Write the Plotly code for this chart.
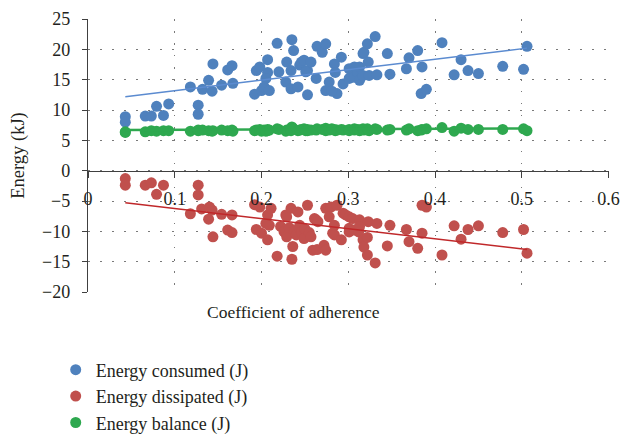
import plotly.graph_objs as go

# --- data ---
consumed_x = [0.043, 0.043, 0.066, 0.073, 0.079, 0.087, 0.093, 0.118, 0.127, 0.127, 0.132, 0.139, 0.143, 0.144,
              0.154, 0.161, 0.166, 0.167, 0.192, 0.194, 0.198, 0.200, 0.203, 0.207, 0.207, 0.205, 0.209, 0.218,
              0.220, 0.228, 0.229, 0.234, 0.235, 0.237, 0.234, 0.242, 0.244, 0.246, 0.249, 0.253, 0.253, 0.257,
              0.251, 0.263, 0.264, 0.270, 0.274, 0.274, 0.278, 0.284, 0.285, 0.287, 0.281, 0.292, 0.294, 0.301,
              0.301, 0.307, 0.307, 0.311, 0.313, 0.313, 0.317, 0.317, 0.318, 0.322, 0.323, 0.324, 0.331, 0.333,
              0.345, 0.348, 0.367, 0.370, 0.380, 0.385, 0.384, 0.390, 0.408, 0.422, 0.430, 0.438, 0.450, 0.478,
              0.502, 0.506]
consumed_y = [8.9, 8.0, 9.0, 9.0, 10.6, 9.1, 11.0, 13.8, 10.8, 9.3, 13.4, 14.9, 13.1, 17.6,
              14.1, 16.6, 17.3, 14.4, 12.6, 16.5, 17.1, 13.2, 13.8, 18.3, 16.2, 15.2, 13.2, 21.0,
              16.3, 14.6, 17.9, 13.5, 21.6, 19.8, 16.5, 13.8, 17.4, 17.9, 18.2, 12.5, 16.5, 17.9,
              16.3, 15.2, 20.5, 19.5, 20.9, 13.2, 14.6, 17.6, 16.2, 12.7, 13.1, 18.7, 14.3, 16.8,
              15.2, 15.4, 17.1, 16.2, 17.1, 14.9, 15.7, 19.3, 19.5, 20.9, 17.9, 15.7, 22.1, 15.8,
              19.3, 15.9, 16.8, 18.6, 19.8, 17.1, 12.7, 13.4, 21.1, 15.8, 18.3, 16.5, 16.0, 17.2,
              16.7, 20.5]

dissipated_x = [0.043, 0.043, 0.066, 0.073, 0.079, 0.087, 0.118, 0.127, 0.127, 0.131, 0.140, 0.143, 0.139, 0.144,
                0.154, 0.161, 0.166, 0.166, 0.192, 0.194, 0.198, 0.200, 0.205, 0.207, 0.207, 0.209, 0.211, 0.218,
                0.222, 0.226, 0.228, 0.228, 0.229, 0.229, 0.232, 0.234, 0.236, 0.235, 0.238, 0.240, 0.242, 0.244,
                0.246, 0.249, 0.250, 0.253, 0.255, 0.257, 0.259, 0.261, 0.263, 0.265, 0.264, 0.272, 0.274, 0.274,
                0.280, 0.278, 0.284, 0.282, 0.284, 0.287, 0.292, 0.294, 0.297, 0.301, 0.301, 0.301, 0.305, 0.307,
                0.312, 0.313, 0.313, 0.317, 0.318, 0.322, 0.322, 0.323, 0.331, 0.333, 0.345, 0.348, 0.367, 0.370,
                0.380, 0.385, 0.385, 0.390, 0.408, 0.422, 0.430, 0.438, 0.450, 0.478, 0.502, 0.506]
dissipated_y = [-1.3, -2.4, -2.4, -2.0, -3.9, -2.4, -7.1, -2.4, -4.0, -6.3, -6.0, -6.5, -8.0, -10.9,
                -7.2, -9.8, -7.3, -10.2, -5.6, -9.7, -6.0, -10.3, -8.7, -7.3, -11.4, -9.0, -6.2, -14.1,
                -9.2, -10.1, -7.3, -9.8, -10.9, -7.6, -9.4, -6.2, -12.5, -14.6, -9.9, -10.6, -6.8, -9.0,
                -10.1, -11.2, -9.6, -5.7, -10.2, -10.9, -13.1, -7.9, -8.1, -8.4, -13.0, -12.3, -13.1, -6.2,
                -6.0, -7.6, -9.0, -10.3, -10.6, -5.7, -11.4, -7.0, -7.3, -7.6, -9.5, -10.1, -7.9, -9.8,
                -10.1, -8.1, -9.2, -11.4, -12.6, -11.0, -13.9, -8.4, -15.2, -8.7, -12.4, -9.0, -9.7, -11.7,
                -12.8, -10.3, -5.7, -6.0, -13.9, -9.1, -11.3, -9.7, -9.1, -10.2, -9.7, -13.6]

balance_x = consumed_x
balance_y = [6.4, 6.3, 6.4, 6.6, 6.5, 6.6, 6.6, 6.5, 6.6, 6.7, 6.7, 6.6, 6.5, 6.6,
             6.7, 6.6, 6.7, 6.5, 6.6, 6.7, 6.8, 6.5, 6.7, 6.8, 6.6, 6.5, 6.7, 6.9,
             6.8, 6.5, 6.7, 6.6, 7.2, 6.9, 6.8, 6.6, 6.7, 6.8, 6.9, 6.6, 6.8, 6.7,
             6.6, 6.7, 6.9, 6.8, 7.0, 6.6, 6.7, 6.8, 6.6, 6.7, 6.9, 6.8, 6.7, 6.8,
             6.6, 6.7, 6.9, 6.8, 6.7, 6.6, 6.8, 6.9, 6.7, 6.9, 6.7, 6.6, 6.9, 6.8,
             6.7, 6.8, 6.7, 6.9, 6.6, 6.8, 6.7, 6.9, 7.1, 6.5, 7.0, 6.8, 6.8, 6.8,
             6.9, 6.6]

# linear trendlines (end values)
trend_x = [0.043, 0.506]
trend_consumed = [12.2, 20.2]
trend_dissipated = [-5.3, -13.0]
trend_balance = [6.7, 6.95]

series = [
    ("Energy consumed (J)", consumed_x, consumed_y, "#4F81BD", trend_consumed, "#5B8BD0"),
    ("Energy dissipated (J)", dissipated_x, dissipated_y, "#C0504D", trend_dissipated, "#C0282A"),
    ("Energy balance (J)", balance_x, balance_y, "#2EA84F", trend_balance, "#2EA84F"),
]

FONT = "Liberation Serif, Times New Roman, serif"
TXT = "#231F20"
GRID = "#7a7a7a"

fig = go.Figure()
for i, (name, xs, ys, col, tr, tcol) in enumerate(series):
    fig.add_trace(go.Scatter(x=xs, y=ys, mode="markers", name=name, legendgroup=str(i),
                             marker=dict(color=col, size=11, line=dict(width=0))))
for i, (name, xs, ys, col, tr, tcol) in enumerate(series):
    fig.add_trace(go.Scatter(x=trend_x, y=tr, mode="lines", showlegend=False,
                             line=dict(color=tcol, width=1.5 if i < 2 else 2.5), hoverinfo="skip"))

fig.update_layout(
    width=624, height=434,
    margin=dict(l=88, r=15, t=19, b=142, autoexpand=False),
    paper_bgcolor="white", plot_bgcolor="white",
    font=dict(family=FONT, size=17.5, color=TXT),
    showlegend=True,
    legend=dict(x=-0.062, y=-0.218, xanchor="left", yanchor="top",
                tracegroupgap=0, font=dict(family=FONT, size=18, color=TXT), bgcolor="rgba(0,0,0,0)"),
    xaxis=dict(range=[0, 0.6005], dtick=0.1, tick0=0, anchor="free", position=20 / 45, automargin=False,
               showline=True, linecolor="#404040", linewidth=1.3,
               ticks="outside", ticklen=6, tickcolor="#404040", ticklabelstandoff=6,
               showgrid=True, gridcolor=GRID, griddash="1.5px,10.5px", gridwidth=1,
               zeroline=False, tickfont=dict(size=18)),
    yaxis=dict(range=[-20, 25], dtick=5, tick0=0, automargin=False,
               showline=True, linecolor="#404040", linewidth=1.3,
               ticks="outside", ticklen=5, tickcolor="#404040", ticklabelstandoff=8,
               showgrid=True, gridcolor=GRID, griddash="1.5px,10.5px", gridwidth=1,
               zeroline=False, tickfont=dict(size=18),
               title=dict(text="Energy (kJ)", standoff=12, font=dict(size=18.5))),
)

# x axis title sits at the bottom of the plot area, not at the zero line
fig.add_annotation(text="Coefficient of adherence", xref="paper", yref="paper",
                   x=0.395, y=-0.075, xanchor="center", yanchor="middle", showarrow=False,
                   font=dict(family=FONT, size=17.5, color=TXT))

# drop the browser's default page margin so the figure sits at the window origin
fig.write_html("out.html", config={"displayModeBar": False},
               post_script="document.body.style.margin='0';")
